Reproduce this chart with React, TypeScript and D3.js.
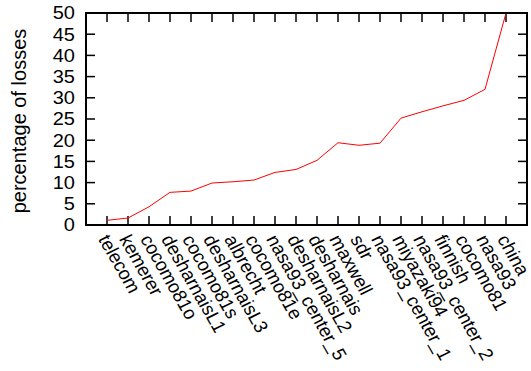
import React from "react";
import * as d3 from "d3";

const categories = [
  "telecom", "kemerer", "cocomo81o", "desharnaisL1", "cocomo81s", "desharnaisL3",
  "albrecht", "cocomo81e", "nasa93_center_5", "desharnaisL2", "desharnais", "maxwell",
  "sdr", "nasa93_center_1", "miyazaki94", "nasa93_center_2", "finnish", "cocomo81",
  "nasa93", "china",
];
const values = [
  1.1, 1.65, 4.3, 7.7, 8.0, 9.9, 10.2, 10.6, 12.4, 13.1, 15.25, 19.4,
  18.8, 19.3, 25.2, 26.7, 28.1, 29.4, 32.0, 50.0,
];
const yTicks = [0, 5, 10, 15, 20, 25, 30, 35, 40, 45, 50];

const W = 531, H = 371;
const L = 86, R = 527, T = 13, B = 225;
const FONT = "'Liberation Sans', Arial, sans-serif";
const FS = 20;

export default function App() {
  const x = d3.scaleLinear().domain([0, categories.length + 1]).range([L, R]);
  const y = d3.scaleLinear().domain([0, 50]).range([B, T]);
  const line = d3.line<number>().x((_, i) => x(i + 1)).y((d) => y(d));
  const tl = 9;
  return (
    <svg width={W} height={H} style={{ position: "absolute", left: 0, top: 0, background: "#fff" }}
      fontFamily={FONT}>
      {yTicks.map((t) => (
        <g key={"y" + t}>
          <line x1={L} x2={L + tl} y1={y(t)} y2={y(t)} stroke="#000" strokeWidth={1.5} />
          <line x1={R} x2={R - tl} y1={y(t)} y2={y(t)} stroke="#000" strokeWidth={1.5} />
          <text transform={`translate(75,${y(t)}) scale(1,0.88)`} dy="0.36em" textAnchor="end"
            fontSize={FS} fill="#000">{t}</text>
        </g>
      ))}
      {categories.map((c, i) => (
        <g key={c}>
          <line x1={x(i + 1)} x2={x(i + 1)} y1={B} y2={B - tl} stroke="#000" strokeWidth={1.5} />
          <line x1={x(i + 1)} x2={x(i + 1)} y1={T} y2={T + tl} stroke="#000" strokeWidth={1.5} />
          <text transform={`translate(${x(i + 1) - 3},${B + 11}) scale(1,0.93) rotate(62)`}
            textAnchor="start" dy="0.36em" fontSize={19.3} fill="#000">{c}</text>
        </g>
      ))}
      <path d={line(values) || ""} fill="none" stroke="#ff0000" strokeWidth={1} />
      <rect x={L} y={T} width={R - L} height={B - T} fill="none" stroke="#000" strokeWidth={2} />
      <text transform={`translate(26,121) rotate(-90)`} textAnchor="middle"
        fontSize={FS} fill="#000">percentage of losses</text>
    </svg>
  );
}
